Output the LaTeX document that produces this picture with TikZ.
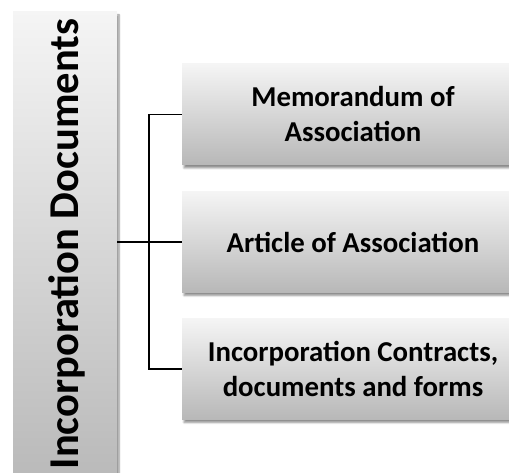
\documentclass[tikz,border=0pt]{standalone}
\usepackage{fontspec}
\setmainfont{Carlito}
\usetikzlibrary{shadows.blur}
\begin{document}
\begin{tikzpicture}[x=1pt,y=1pt,
  box/.style={rectangle, top color=black!4, bottom color=black!28,
    blur shadow={shadow xshift=2pt, shadow yshift=-3pt, shadow blur steps=6, shadow blur extra rounding=0pt, shadow opacity=45},
    align=center, font=\fontsize{28.8}{35}\selectfont\bfseries, inner sep=0pt},
  conn/.style={line width=1.6pt, black}]
\useasboundingbox (0,0) rectangle (509,473);
\node[box, minimum width=104, minimum height=480] (root) at (65,221) {};
\node[rotate=90, font=\fontsize{42.5}{50}\selectfont\bfseries, anchor=base, inner sep=0pt] (rootlabel) at (78,229) {Incorporation Documents};
\node[box, minimum width=342, minimum height=101] (b1) at (353,358.5) {Memorandum of\\Association};
\node[box, minimum width=342, minimum height=101] (b2) at (353,231) {Article of Association};
\node[box, minimum width=342, minimum height=101] (b3) at (353,104) {Incorporation Contracts,\\documents and forms};
\coordinate (hub) at (149,231);
\draw[conn] (root.east |- hub) -- (hub);
\draw[conn] (hub) -- (b2.west);
\draw[conn] (b1.west) -| (hub) |- (b3.west);
\end{tikzpicture}
\end{document}
